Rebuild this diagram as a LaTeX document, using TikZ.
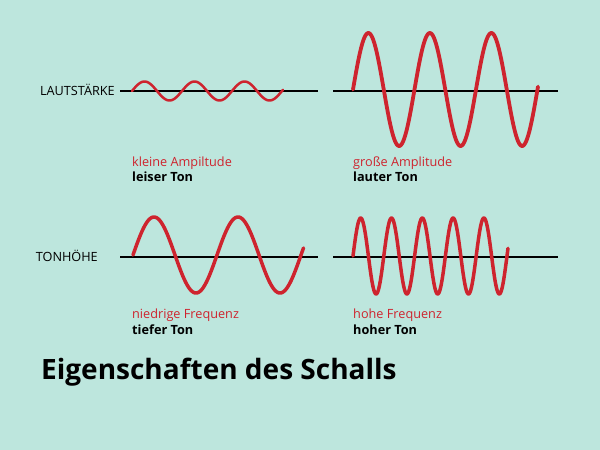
\documentclass[tikz,border=0pt]{standalone}
\usepackage{fontspec}
\setmainfont{Open Sans}
\usetikzlibrary{positioning}

\definecolor{mint}{RGB}{189,230,221}
\definecolor{wavered}{RGB}{206,36,46}

\begin{document}
\begin{tikzpicture}[
    x=1pt, y=-1pt,
    axis/.style={draw=black, line width=1.8pt},
    wave/.style={draw=wavered, line width=3.8pt, line cap=round, line join=round},
    rowlabel/.style={font=\fontsize{12.7}{15}\selectfont, inner sep=0pt, anchor=base east},
    redtxt/.style={text=wavered, font=\fontsize{12.7}{15}\selectfont, anchor=base west, inner sep=0pt},
    blktxt/.style={text=black, font=\fontsize{12.7}{15}\selectfont\bfseries, anchor=base west, inner sep=0pt},
]
    \fill[mint] (0,0) rectangle (600,450);
    \useasboundingbox (0,0) rectangle (600,450);

    % axis lines
    \coordinate (a1l) at (120,91);  \coordinate (a1r) at (318,91);
    \coordinate (a2l) at (333,91);  \coordinate (a2r) at (558,91);
    \coordinate (a3l) at (120,257); \coordinate (a3r) at (318,257);
    \coordinate (a4l) at (333,257); \coordinate (a4r) at (558,257);
    \draw[axis] (a1l) -- (a1r);
    \draw[axis] (a2l) -- (a2r);
    \draw[axis] (a3l) -- (a3r);
    \draw[axis] (a4l) -- (a4r);

    \node[rowlabel] (laut) at (115,95.5) {LAUTSTÄRKE};
    \node[rowlabel] (hoehe) at (98,261) {TONHÖHE};

    % waves
    \draw[wave, line width=2.5pt] plot[domain=0:151, samples=200]
        (\x+132, {91-9.5*sin(\x*(360/50))});
    \draw[wave] plot[domain=0:185, samples=250]
        (\x+353, {89.5-56.5*sin(\x*(360/61.5))});
    \draw[wave, line width=3.5pt] plot[domain=0:170.5, samples=250]
        (\x+133, {255-38*sin(\x*(360/84))});
    \draw[wave, line width=3.5pt] plot[domain=0:155, samples=300]
        (\x+353, {256-38*sin(\x*(360/30.8))});

    % captions
    \node[redtxt] (amp1) at (132,166) {kleine Ampiltude};
    \node[blktxt] (ton1) at (132,181.7) {leiser Ton};
    \node[redtxt] (amp2) at (353,166.5) {große Amplitude};
    \node[blktxt] (ton2) at (353,181.7) {lauter Ton};
    \node[redtxt] (frq3) at (132,318.5) {niedrige Frequenz};
    \node[blktxt] (ton3) at (132,334) {tiefer Ton};
    \node[redtxt] (frq4) at (353,318.3) {hohe Frequenz};
    \node[blktxt] (ton4) at (353,334) {hoher Ton};

    \node[anchor=base west, inner sep=0pt, font=\fontsize{28}{32}\selectfont\bfseries]
        (title) at (41,379) {Eigenschaften des Schalls};
\end{tikzpicture}
\end{document}
